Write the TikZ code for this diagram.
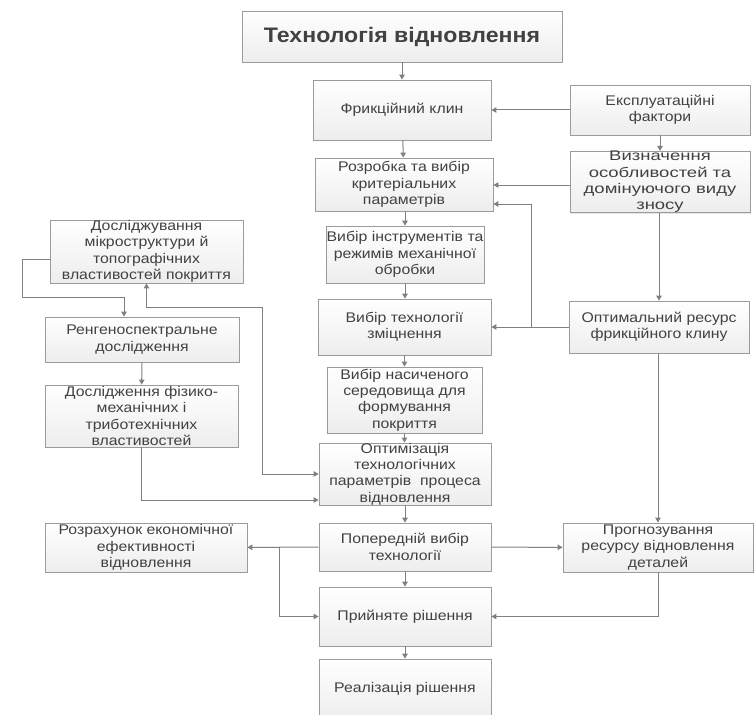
\documentclass[tikz,border=0pt]{standalone}
\usepackage{fontspec}
\setmainfont[FakeStretch=1.13]{Liberation Sans}
\newfontfamily\widefont[FakeStretch=1.32]{Liberation Sans}
\newfontfamily\titlefont[FakeStretch=1.1]{Liberation Sans}
\usetikzlibrary{arrows.meta,shadows}
\definecolor{linegray}{RGB}{128,128,128}
\definecolor{boxgray}{RGB}{155,155,155}
\definecolor{txtgray}{RGB}{65,65,65}

\begin{document}
\begin{tikzpicture}[x=1pt,y=-1pt,
    box/.style={draw=boxgray,top color=white,bottom color=gray!14,text=txtgray,
      align=center,inner sep=0pt,line width=0.8pt,
      drop shadow={opacity=0.2,shadow xshift=1pt,shadow yshift=-1pt},
      font=\fontsize{14}{16.3}\selectfont},
    arr/.style={draw=linegray,line width=1pt,-{Triangle[width=5.5pt,length=5pt]}},
    arrb/.style={draw=linegray,line width=1pt,{Triangle[width=5.5pt,length=5pt]}-{Triangle[width=5.5pt,length=5pt]}}]
  \useasboundingbox (0,0) rectangle (754,714);

  % main column
  \node[box,minimum width=320pt,minimum height=51pt,font=\titlefont\fontsize{21}{24}\selectfont\bfseries](tech)at(402,36.5){Технологія відновлення};
  \node[box,minimum width=178pt,minimum height=60pt](fk)at(402,110){Фрикційний клин};
  \node[box,minimum width=178pt,minimum height=53pt](rozr)at(404,184.5){Розробка та вибір\\критеріальних\\параметрів};
  \node[box,minimum width=158pt,minimum height=57pt](instr)at(405,254.5){Вибір інструментів та\\режимів механічної\\обробки};
  \node[box,minimum width=173pt,minimum height=56pt](zmitsn)at(404.5,327){Вибір технології\\зміцнення};
  \node[box,minimum width=155pt,minimum height=66pt](nasych)at(404.5,400){Вибір насиченого\\середовища для\\формування\\покриття};
  \node[box,minimum width=172pt,minimum height=62pt](optym)at(405,474){Оптимізація\\технологічних\\параметрів\ \ процеса\\відновлення};
  \node[box,minimum width=172pt,minimum height=48pt](poper)at(405,547){Попередній вибір\\технології};
  \node[box,minimum width=172pt,minimum height=59pt](pryin)at(405,616.5){Прийняте рішення};
  \node[box,minimum width=172pt,minimum height=60pt](real)at(405,689){Реалізація рішення};

  % right column
  \node[box,minimum width=180pt,minimum height=50pt](ekspl)at(660,110){Експлуатаційні\\фактори};
  \node[box,minimum width=180pt,minimum height=55pt,font=\widefont\fontsize{14}{16.3}\selectfont](vyzn)at(660,182){Визначення\\особливостей та\\домінуючого виду\\зносу};
  \node[box,minimum width=180pt,minimum height=52pt](optres)at(659,327){Оптимальний ресурс\\фрикційного клину};
  \node[box,minimum width=190pt,minimum height=49pt](prohn)at(658,547.5){Прогнозування\\ресурсу відновлення\\деталей};

  % left column
  \node[box,minimum width=193pt,minimum height=63pt](doslm)at(146.5,251.5){Досліджування\\мікроструктури й\\топографічних\\властивостей покриття};
  \node[box,minimum width=194pt,minimum height=45pt](reng)at(142,339.5){Ренгеноспектральне\\дослідження};
  \node[box,minimum width=193pt,minimum height=62pt](doslf)at(141.5,416){Дослідження фізико-\\механічних і\\триботехнічних\\властивостей};
  \node[box,minimum width=202pt,minimum height=49pt](rozrah)at(146,547.5){Розрахунок економічної\\ефективності\\відновлення};

  \coordinate (j1) at (531,327);
  \coordinate (j2) at (279,547);
  \coordinate (c1) at (22,297);
  \coordinate (c2) at (262,307);

  \draw[arr] (tech) to (fk);
  \draw[arr] (fk) to (rozr);
  \draw[arr] (rozr.south -| instr.north) to (instr);
  \draw[arr] (instr) to (zmitsn.north -| instr.south);
  \draw[arr] (zmitsn) to (nasych);
  \draw[arr] (nasych) to (optym.north -| nasych.south);
  \draw[arr] (optym) to (poper);
  \draw[arr] (poper) to (pryin);
  \draw[arr] (pryin) to (real);

  \draw[arr] (ekspl) to (fk);
  \draw[arr] (ekspl) to (vyzn);
  \draw[arr] ([yshift=-3pt]vyzn.west) to ([yshift=-3pt]rozr.east |- vyzn.west);
  \draw[arr] (vyzn.south -| optres.north) to (optres);
  \draw[arr] (optres) to (zmitsn);
  \draw[arr] (j1) |- ([yshift=-19.5pt]rozr.east);
  \draw[arr] (optres.south -| prohn.north) to (prohn);
  \draw[arr] (poper) to (prohn);
  \draw[arr] (prohn.south) |- (pryin.east);

  \draw[arr] (poper) to (rozrah);
  \draw[arr] (j2) |- (pryin.west);

  \draw[arr] ([yshift=-7.5pt]doslm.west) -| (c1) -| ([xshift=-18pt]reng.north);
  \draw[arr] (reng) to (doslf);
  \draw[arr] (doslf.south) |- ([yshift=-26pt]optym.west);
  \draw[arrb] (doslm.south) |- (c2) |- (optym.west);
\end{tikzpicture}
\end{document}
